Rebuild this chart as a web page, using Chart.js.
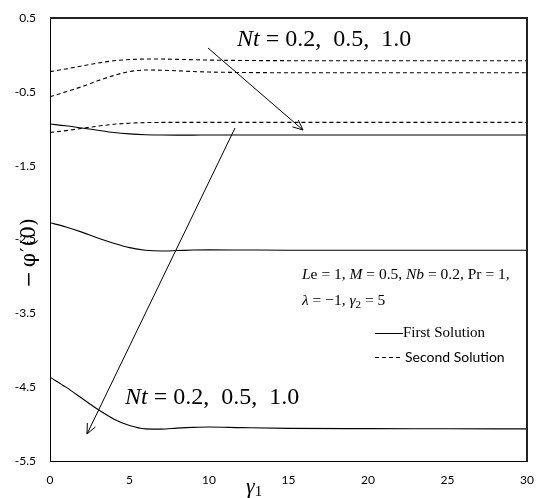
<!DOCTYPE html>
<html>
<head>
<meta charset="utf-8">
<script src="https://cdn.jsdelivr.net/npm/chart.js@4.4.1/dist/chart.umd.min.js"></script>
<style>
  html, body { margin: 0; padding: 0; background: #fff; }
  #wrap { width: 536px; height: 498px; }
</style>
</head>
<body>
<div id="wrap"><canvas id="chart" width="536" height="498"></canvas></div>
<script>
/* ─── Data ──────────────────────────────────────────────────────────────── */
const gamma1 = [0, 1, 2, 3, 4, 5, 6, 7, 8, 9, 10, 12, 15, 20, 25, 30];

// first solution (solid), Nt = 0.2, 0.5, 1.0
const first02 = [-0.936, -0.96, -0.99, -1.02, -1.05, -1.07, -1.082, -1.085, -1.086, -1.086, -1.085, -1.085, -1.085, -1.085, -1.085, -1.085];
const first05 = [-2.273, -2.33, -2.40, -2.48, -2.55, -2.61, -2.645, -2.655, -2.65, -2.643, -2.64, -2.642, -2.645, -2.645, -2.645, -2.645];
const first10 = [-4.364, -4.50, -4.65, -4.80, -4.93, -5.02, -5.065, -5.068, -5.055, -5.045, -5.04, -5.048, -5.058, -5.062, -5.063, -5.065];

// second solution (dashed)
const second02 = [-0.227, -0.19, -0.15, -0.11, -0.08, -0.063, -0.056, -0.056, -0.06, -0.065, -0.07, -0.075, -0.078, -0.078, -0.078, -0.078];
const second05 = [-0.566, -0.50, -0.43, -0.35, -0.28, -0.225, -0.205, -0.207, -0.215, -0.225, -0.232, -0.238, -0.241, -0.241, -0.241, -0.241];
const second10 = [-1.049, -1.025, -0.995, -0.965, -0.94, -0.925, -0.917, -0.914, -0.913, -0.913, -0.913, -0.913, -0.913, -0.913, -0.913, -0.913];

const xTicks = [0, 5, 10, 15, 20, 25, 30];
const yTicks = [0.5, -0.5, -1.5, -2.5, -3.5, -4.5, -5.5];

/* ─── Helpers ────────────────────────────────────────────────────────────── */
const SERIF = "'Liberation Serif', 'DejaVu Serif', serif";
const SANS  = "Lato, 'Open Sans', sans-serif";

function pts(ys) {
  return gamma1.map((x, i) => ({ x, y: ys[i] }));
}

function series(ys, dashed) {
  return {
    data: pts(ys),
    borderColor: '#000',
    borderWidth: 1.1,
    borderDash: dashed ? [4, 3] : [],
    pointRadius: 0,
    fill: false,
    cubicInterpolationMode: 'monotone',
  };
}

// draw a run of [text, font] pieces starting at x, returns end x
function drawRuns(ctx, x, y, runs) {
  runs.forEach(([txt, font]) => {
    ctx.font = font;
    ctx.fillText(txt, x, y);
    x += ctx.measureText(txt).width;
  });
  return x;
}

function arrow(ctx, x1, y1, x2, y2) {
  const ang = Math.atan2(y2 - y1, x2 - x1);
  const len = 11, spread = 0.42;
  ctx.beginPath();
  ctx.moveTo(x1, y1);
  ctx.lineTo(x2, y2);
  ctx.moveTo(x2 - len * Math.cos(ang - spread), y2 - len * Math.sin(ang - spread));
  ctx.lineTo(x2, y2);
  ctx.lineTo(x2 - len * Math.cos(ang + spread), y2 - len * Math.sin(ang + spread));
  ctx.stroke();
}

/* ─── Annotations: frame, titles, labels, arrows, legend ────────────────── */
const annotations = {
  id: 'annotations',
  afterDraw(chart) {
    const { ctx } = chart;
    const xs = chart.scales.x, ys = chart.scales.y;
    ctx.save();
    ctx.strokeStyle = '#000';
    ctx.fillStyle = '#000';
    ctx.lineWidth = 1;
    ctx.setLineDash([]);
    ctx.textAlign = 'left';
    ctx.textBaseline = 'middle';

    // plot frame, top and right edges (2px strips so they survive the photo)
    const L = Math.round(xs.left), R = Math.round(xs.right);
    const T = Math.round(ys.top),  B = Math.round(ys.bottom);
    ctx.fillStyle = '#222';
    ctx.fillRect(L, T - 1, R - L + 1, 2);
    ctx.fillRect(R - 1, T - 1, 2, B - T + 2);
    ctx.fillStyle = '#000';

    // Nt labels
    const italic = `italic 24px ${SERIF}`;
    const roman  = `24px ${SERIF}`;
    drawRuns(ctx, 237, 40, [['Nt', italic], [' = 0.2,  0.5,  1.0', roman]]);
    drawRuns(ctx, 125, 398, [['Nt', italic], [' = 0.2,  0.5,  1.0', roman]]);

    // arrows
    arrow(ctx, 208, 48, 303, 130);
    arrow(ctx, 235, 128, 87, 434);

    // parameter block
    const pi = `italic 15.5px ${SERIF}`;
    const pr = `15.5px ${SERIF}`;
    drawRuns(ctx, 302, 275, [
      ['L', pi], ['e = 1, ', pr], ['M', pi], [' = 0.5, ', pr],
      ['Nb', pi], [' = 0.2, Pr = 1,', pr],
    ]);
    let x = drawRuns(ctx, 302, 301, [['λ', pi], [' = −1, ', pr], ['γ', pi]]);
    ctx.font = `11px ${SERIF}`;
    ctx.fillText('2', x, 305);
    x += ctx.measureText('2').width;
    drawRuns(ctx, x, 301, [[' = 5', pr]]);

    // legend
    ctx.fillRect(375, 333, 28, 1);
    for (let d = 375; d < 403; d += 7) ctx.fillRect(d, 357, 4, 1);
    ctx.font = `15px ${SERIF}`;
    ctx.fillText('First Solution', 403, 333);
    ctx.font = `14px ${SANS}`;
    ctx.fillText('Second Solution', 405, 357);

    // x axis title: γ1
    x = drawRuns(ctx, 246, 487, [['γ', `italic 22px ${SERIF}`]]);
    ctx.font = `15px ${SERIF}`;
    ctx.fillText('1', x, 492);

    // y axis title: −φ′(0), rotated, pieces placed one after another
    ctx.translate(28, 253);
    ctx.rotate(-Math.PI / 2);
    ctx.textAlign = 'left';
    ctx.textBaseline = 'alphabetic';
    const titleFont = "20px 'DejaVu Serif', serif";
    const pieces = ['−', 'φ', '′', '(0)'];
    const gaps = [4, 1, 1, 0];
    ctx.font = titleFont;
    let total = 0;
    pieces.forEach((p, i) => { total += ctx.measureText(p).width + gaps[i]; });
    let px = -total / 2;
    pieces.forEach((p, i) => {
      ctx.fillText(p, px, 7);
      px += ctx.measureText(p).width + gaps[i];
    });
    ctx.restore();
  },
};

/* ─── Chart ──────────────────────────────────────────────────────────────── */
new Chart(document.getElementById('chart'), {
  type: 'line',
  data: {
    datasets: [
      series(first02, false),
      series(first05, false),
      series(first10, false),
      series(second02, true),
      series(second05, true),
      series(second10, true),
    ],
  },
  options: {
    responsive: false,
    animation: false,
    layout: { padding: { top: 18, right: 9, left: 0, bottom: 0 } },
    plugins: { legend: { display: false }, tooltip: { enabled: false } },
    scales: {
      x: {
        type: 'linear',
        min: 0,
        max: 30,
        afterBuildTicks: s => { s.ticks = xTicks.map(v => ({ value: v })); },
        afterFit: s => { s.height = 37; s.paddingLeft = 0; s.paddingRight = 0; },
        grid: { display: false, drawTicks: false },
        border: { display: true, color: '#000' },
        ticks: { color: '#000', padding: 12, maxRotation: 0, font: { family: SANS, size: 12 } },
      },
      y: {
        type: 'linear',
        min: -5.5,
        max: 0.5,
        afterBuildTicks: s => { s.ticks = yTicks.map(v => ({ value: v })); },
        afterFit: s => { s.width = 50; s.paddingTop = 0; s.paddingBottom = 0; },
        grid: { display: false, drawTicks: false },
        border: { display: true, color: '#000' },
        ticks: {
          color: '#000',
          padding: 14,
          font: { family: SANS, size: 12 },
          callback: v => v.toFixed(1),
        },
      },
    },
  },
  plugins: [annotations],
});
</script>
</body>
</html>
